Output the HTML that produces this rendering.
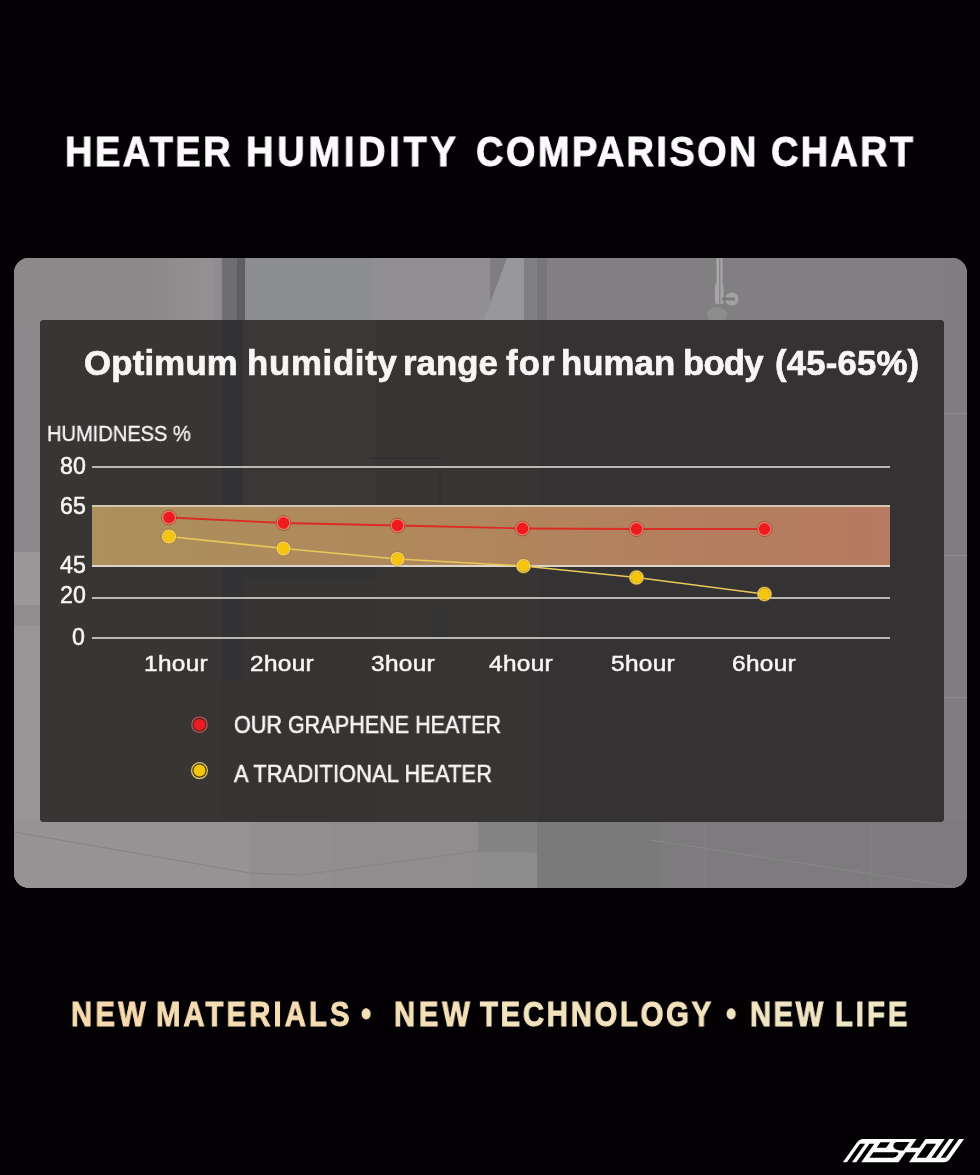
<!DOCTYPE html>
<html><head><meta charset="utf-8">
<style>
html,body{margin:0;padding:0;}
body{width:980px;height:1175px;background:#030103;position:relative;overflow:hidden;font-family:"Liberation Sans",sans-serif;}
.abs{position:absolute;}
.t{position:absolute;white-space:nowrap;line-height:1;transform-origin:0 0;will-change:transform;}
#inner{left:40px;top:320px;width:904px;height:502px;border-radius:4px;overflow:hidden;background:#363433;}
#inner div{position:absolute;}
.w{color:#f8f6f5;}
.grid{position:absolute;left:92px;width:798px;height:2px;background:#bab7b5;}
#band{left:92px;top:505px;width:798px;height:62px;box-sizing:border-box;background:linear-gradient(90deg,#ad905b 0%,#ae8b5c 22%,#b0875c 46%,#b47f5e 74%,#b57a60 100%);border-top:2px solid #d4c6b0;border-bottom:2px solid #dcd3ca;}
.dig{font-size:23.2px;-webkit-text-stroke:0.5px #f8f6f5;}
.hr{font-size:22.6px;letter-spacing:0.3px;transform:scaleX(1.08);top:652.6px;-webkit-text-stroke:0.5px #f8f6f5;}
</style></head>
<body>
<div class="t" style="left:65.2px;top:129.9px;font-size:43.2px;font-weight:bold;letter-spacing:2.75px;transform:scaleX(0.88);-webkit-text-stroke:0.9px #fcfafc;color:#fcfafc;">HEATER</div>
<div class="t" style="left:245.8px;top:129.9px;font-size:43.2px;font-weight:bold;letter-spacing:4.26px;transform:scaleX(0.88);-webkit-text-stroke:0.9px #fcfafc;color:#fcfafc;">HUMIDITY</div>
<div class="t" style="left:475.7px;top:129.9px;font-size:43.2px;font-weight:bold;letter-spacing:2.71px;transform:scaleX(0.88);-webkit-text-stroke:0.9px #fcfafc;color:#fcfafc;">COMPARISON</div>
<div class="t" style="left:770.7px;top:129.9px;font-size:43.2px;font-weight:bold;letter-spacing:2.58px;transform:scaleX(0.88);-webkit-text-stroke:0.9px #fcfafc;color:#fcfafc;">CHART</div>
<svg class="abs" style="left:0;top:0" width="980" height="1175" viewBox="0 0 980 1175">
  <defs>
    <clipPath id="oc"><rect x="14" y="258" width="953" height="630" rx="15" ry="15"/></clipPath>
    <linearGradient id="lstrip" x1="0" y1="0" x2="0" y2="1">
      <stop offset="0" stop-color="#8b898a"/><stop offset="0.47" stop-color="#8a8889"/>
      <stop offset="0.5" stop-color="#7e7c7d"/><stop offset="0.56" stop-color="#8e8c8d"/>
      <stop offset="0.6" stop-color="#979596"/><stop offset="1" stop-color="#9c9a9b"/>
    </linearGradient>
  <linearGradient id="tg1" x1="0" y1="0" x2="1" y2="0"><stop offset="0" stop-color="#8b898a"/><stop offset="0.85" stop-color="#939193"/><stop offset="1" stop-color="#8a888a"/></linearGradient>
  </defs>
  <g clip-path="url(#oc)">
    <rect x="14" y="258" width="953" height="630" fill="#7f7d7f"/>
    <!-- left strip -->
    <rect x="14" y="258" width="30" height="294" fill="#8a888a"/><rect x="14" y="552" width="30" height="53" fill="#9a9899"/><rect x="14" y="605" width="30" height="21" fill="#8f8d8e"/><rect x="14" y="626" width="30" height="262" fill="#979596"/>
    <!-- top strip blocks -->
    <rect x="14" y="258" width="208" height="64" fill="#8b898a"/>
    <rect x="150" y="258" width="72" height="64" fill="url(#tg1)"/>
    <rect x="222" y="258" width="15" height="64" fill="#6f6d70"/>
    <rect x="237" y="258" width="8" height="64" fill="#5f5e63"/>
    <rect x="245" y="258" width="127" height="64" fill="#8c8d91"/>
    <rect x="372" y="258" width="118" height="64" fill="#918f92"/>
    <polygon points="483,322 507,258 524,258 524,322" fill="#989799"/>
    <rect x="524" y="258" width="13" height="64" fill="#807f81"/><rect x="537" y="258" width="10" height="64" fill="#767577"/>
    <rect x="547" y="258" width="420" height="64" fill="#817f82"/>
    <!-- shower -->
    <rect x="716.5" y="258" width="6" height="32" fill="#a9a8a9"/>
    <rect x="719.2" y="258" width="1.2" height="46" fill="#7e7d7e"/>
    <rect x="715" y="284" width="8.5" height="20" rx="2" fill="#a6a5a6"/>
    <rect x="719.2" y="284" width="1.2" height="20" fill="#828182"/>
    <circle cx="731.8" cy="299" r="6.6" fill="#a4a3a4"/>
    <rect x="722" y="297.5" width="13" height="3" fill="#7c7b7c"/>
    <ellipse cx="717" cy="315" rx="10" ry="8" fill="#8e8d8e"/>
    <!-- right strip -->
    <rect x="944" y="258" width="23" height="630" fill="#7f7d7f"/><rect x="944" y="413" width="23" height="1" fill="#8e8c8e"/><rect x="944" y="555" width="23" height="1" fill="#8e8c8e"/><rect x="944" y="697" width="23" height="1" fill="#8e8c8e"/>
    <!-- bottom strip -->
    <rect x="14" y="820" width="236" height="68" fill="#959394"/>
    <rect x="250" y="820" width="228" height="68" fill="#8f8d8e"/>
    <rect x="250" y="820" width="80" height="68" fill="#918f90"/>
    <rect x="478" y="820" width="59" height="32" fill="#858485"/>
    <rect x="478" y="852" width="59" height="36" fill="#8e8d8e"/>
    <rect x="537" y="820" width="123" height="68" fill="#7b7a7b"/>
    <rect x="660" y="820" width="307" height="68" fill="#7d7b7d"/>
    <polyline points="14,832 250,873 300,875 478,851 537,852" fill="none" stroke="#858384" stroke-width="1.2"/>
    <polyline points="650,840 950,886" fill="none" stroke="#8a898a" stroke-width="1"/>
    <rect x="705" y="822" width="1" height="66" fill="#858385"/>
    <rect x="870" y="822" width="1" height="66" fill="#858385"/>
  </g>
</svg>
<div id="inner" class="abs">
  <div style="left:0;top:0;width:182px;height:502px;background:#383635;"></div>
  <div style="left:182px;top:0;width:21px;height:360px;background:#323133;"></div>
  <div style="left:203px;top:0;width:133px;height:257px;background:#3a3837;"></div>
  <div style="left:203px;top:246px;width:133px;height:12px;background:#333232;"></div>
  <div style="left:203px;top:258px;width:133px;height:244px;background:#363433;"></div>
  <div style="left:336px;top:0;width:163px;height:502px;background:#373534;"></div>
  <div style="left:399px;top:140px;width:1.5px;height:105px;background:#323131;"></div>
  <div style="left:330px;top:137px;width:70px;height:2px;background:#323030;"></div>
  <div style="left:391px;top:287px;width:18px;height:30px;border-radius:6px;background:#343333;"></div>
  <div style="left:499px;top:0;width:405px;height:502px;background:#343233;"></div>
</div>
<div class="t" style="left:83.7px;top:346.3px;font-size:34.74px;font-weight:bold;letter-spacing:0.22px;transform:scaleX(1.0);-webkit-text-stroke:0.7px #f8f6f5;color:#f8f6f5;">Optimum</div>
<div class="t" style="left:246.5px;top:346.3px;font-size:34.74px;font-weight:bold;letter-spacing:0.73px;transform:scaleX(1.0);-webkit-text-stroke:0.7px #f8f6f5;color:#f8f6f5;">humidity</div>
<div class="t" style="left:402.9px;top:346.3px;font-size:34.74px;font-weight:bold;letter-spacing:0.04px;transform:scaleX(1.0);-webkit-text-stroke:0.7px #f8f6f5;color:#f8f6f5;">range</div>
<div class="t" style="left:506.1px;top:346.3px;font-size:34.74px;font-weight:bold;letter-spacing:1.07px;transform:scaleX(1.0);-webkit-text-stroke:0.7px #f8f6f5;color:#f8f6f5;">for</div>
<div class="t" style="left:560.7px;top:346.3px;font-size:34.74px;font-weight:bold;letter-spacing:0.09px;transform:scaleX(1.0);-webkit-text-stroke:0.7px #f8f6f5;color:#f8f6f5;">human</div>
<div class="t" style="left:683.2px;top:346.3px;font-size:34.74px;font-weight:bold;letter-spacing:-0.83px;transform:scaleX(1.0);-webkit-text-stroke:0.7px #f8f6f5;color:#f8f6f5;">body</div>
<div class="t" style="left:775.3px;top:346.3px;font-size:34.74px;font-weight:bold;letter-spacing:0.19px;transform:scaleX(1.0);-webkit-text-stroke:0.7px #f8f6f5;color:#f8f6f5;">(45-65%)</div>
<div class="t w" style="left:47.3px;top:423.0px;font-size:21.22px;letter-spacing:-0.08px;transform:scaleX(0.95);-webkit-text-stroke:0.3px #f8f6f5;">HUMIDNESS %</div>
<div class="t w dig" style="left:60.1px;top:454.9px;">80</div>
<div class="t w dig" style="left:60.1px;top:494.7px;">65</div>
<div class="t w dig" style="left:60.1px;top:553.8px;">45</div>
<div class="t w dig" style="left:60.1px;top:584.1px;">20</div>
<div class="t w dig" style="left:71.6px;top:626.1px;">0</div>
<div class="grid" style="top:465.5px;"></div>
<div id="band" class="abs"></div>
<div class="grid" style="top:596.5px;"></div>
<div class="grid" style="top:637.3px;"></div>
<svg class="abs" style="left:0;top:0" width="980" height="1175" viewBox="0 0 980 1175">
<polyline points="169,517.5 283.5,523 397.5,525.5 522.5,528.5 636.5,529 764.5,529" fill="none" stroke="#dc2b24" stroke-width="1.8"/>
<polyline points="169,536.5 283.5,548.5 397.5,559 523.5,566 636.5,577.5 764.5,594" fill="none" stroke="#e9c95a" stroke-width="1.6"/>
<circle cx="169" cy="517.5" r="7.35" fill="none" stroke="rgba(140,50,35,0.75)" stroke-width="0.9"/><circle cx="169" cy="517.5" r="6.4" fill="none" stroke="#f07866" stroke-width="1.4"/><circle cx="169" cy="517.5" r="5.7" fill="#ee1a1f"/>
<circle cx="283.5" cy="523" r="7.35" fill="none" stroke="rgba(140,50,35,0.75)" stroke-width="0.9"/><circle cx="283.5" cy="523" r="6.4" fill="none" stroke="#f07866" stroke-width="1.4"/><circle cx="283.5" cy="523" r="5.7" fill="#ee1a1f"/>
<circle cx="397.5" cy="525.5" r="7.35" fill="none" stroke="rgba(140,50,35,0.75)" stroke-width="0.9"/><circle cx="397.5" cy="525.5" r="6.4" fill="none" stroke="#f07866" stroke-width="1.4"/><circle cx="397.5" cy="525.5" r="5.7" fill="#ee1a1f"/>
<circle cx="522.5" cy="528.5" r="7.35" fill="none" stroke="rgba(140,50,35,0.75)" stroke-width="0.9"/><circle cx="522.5" cy="528.5" r="6.4" fill="none" stroke="#f07866" stroke-width="1.4"/><circle cx="522.5" cy="528.5" r="5.7" fill="#ee1a1f"/>
<circle cx="636.5" cy="529" r="7.35" fill="none" stroke="rgba(140,50,35,0.75)" stroke-width="0.9"/><circle cx="636.5" cy="529" r="6.4" fill="none" stroke="#f07866" stroke-width="1.4"/><circle cx="636.5" cy="529" r="5.7" fill="#ee1a1f"/>
<circle cx="764.5" cy="529" r="7.35" fill="none" stroke="rgba(140,50,35,0.75)" stroke-width="0.9"/><circle cx="764.5" cy="529" r="6.4" fill="none" stroke="#f07866" stroke-width="1.4"/><circle cx="764.5" cy="529" r="5.7" fill="#ee1a1f"/>
<circle cx="169" cy="536.5" r="7.35" fill="none" stroke="rgba(160,120,30,0.75)" stroke-width="0.9"/><circle cx="169" cy="536.5" r="6.4" fill="none" stroke="#f2d468" stroke-width="1.4"/><circle cx="169" cy="536.5" r="5.7" fill="#f6c60e"/>
<circle cx="283.5" cy="548.5" r="7.35" fill="none" stroke="rgba(160,120,30,0.75)" stroke-width="0.9"/><circle cx="283.5" cy="548.5" r="6.4" fill="none" stroke="#f2d468" stroke-width="1.4"/><circle cx="283.5" cy="548.5" r="5.7" fill="#f6c60e"/>
<circle cx="397.5" cy="559" r="7.35" fill="none" stroke="rgba(160,120,30,0.75)" stroke-width="0.9"/><circle cx="397.5" cy="559" r="6.4" fill="none" stroke="#f2d468" stroke-width="1.4"/><circle cx="397.5" cy="559" r="5.7" fill="#f6c60e"/>
<circle cx="523.5" cy="566" r="7.35" fill="none" stroke="rgba(160,120,30,0.75)" stroke-width="0.9"/><circle cx="523.5" cy="566" r="6.4" fill="none" stroke="#f2d468" stroke-width="1.4"/><circle cx="523.5" cy="566" r="5.7" fill="#f6c60e"/>
<circle cx="636.5" cy="577.5" r="7.35" fill="none" stroke="rgba(160,120,30,0.75)" stroke-width="0.9"/><circle cx="636.5" cy="577.5" r="6.4" fill="none" stroke="#f2d468" stroke-width="1.4"/><circle cx="636.5" cy="577.5" r="5.7" fill="#f6c60e"/>
<circle cx="764.5" cy="594" r="7.35" fill="none" stroke="rgba(160,120,30,0.75)" stroke-width="0.9"/><circle cx="764.5" cy="594" r="6.4" fill="none" stroke="#f2d468" stroke-width="1.4"/><circle cx="764.5" cy="594" r="5.7" fill="#f6c60e"/>
<circle cx="199.5" cy="724.7" r="7.7" fill="none" stroke="#d4504a" stroke-width="1.2"/><circle cx="199.5" cy="724.7" r="6.4" fill="#5a2a28"/><circle cx="199.5" cy="724.7" r="5.8" fill="#ec1c22"/>
<circle cx="199.5" cy="770.6" r="7.9" fill="none" stroke="#e0c462" stroke-width="1.3"/><circle cx="199.5" cy="770.6" r="6.6" fill="#4a3e22"/><circle cx="199.5" cy="770.6" r="6.0" fill="#f6c40a"/>
</svg>
<div class="t w hr" style="left:143.5px;">1hour</div>
<div class="t w hr" style="left:250.0px;">2hour</div>
<div class="t w hr" style="left:371.1px;">3hour</div>
<div class="t w hr" style="left:489.0px;">4hour</div>
<div class="t w hr" style="left:610.9px;">5hour</div>
<div class="t w hr" style="left:731.9px;">6hour</div>
<div class="t w" style="left:234.2px;top:713.3px;font-size:23.84px;letter-spacing:0.10px;transform:scaleX(0.9);-webkit-text-stroke:0.6px #f8f6f5;">OUR GRAPHENE HEATER</div>
<div class="t w" style="left:234.0px;top:762.0px;font-size:24.13px;letter-spacing:0.22px;transform:scaleX(0.9);-webkit-text-stroke:0.6px #f8f6f5;">A TRADITIONAL HEATER</div>
<div class="t" style="left:70.7px;top:997.0px;font-size:34.4px;font-weight:bold;letter-spacing:3.91px;transform:scaleX(0.85);-webkit-text-stroke:1.0px #f7dbaf;color:#f7dbaf;">NEW</div>
<div class="t" style="left:156.3px;top:997.0px;font-size:34.4px;font-weight:bold;letter-spacing:3.71px;transform:scaleX(0.85);-webkit-text-stroke:1.0px #f5ddb3;color:#f5ddb3;">MATERIALS</div>
<div class="t" style="left:361.2px;top:997.0px;font-size:34.4px;font-weight:bold;letter-spacing:0.21px;transform:scaleX(0.85);-webkit-text-stroke:1.0px #f4dfb6;color:#f4dfb6;">&#8226;</div>
<div class="t" style="left:394.0px;top:997.0px;font-size:34.4px;font-weight:bold;letter-spacing:4.44px;transform:scaleX(0.85);-webkit-text-stroke:1.0px #f4e0b8;color:#f4e0b8;">NEW</div>
<div class="t" style="left:479.6px;top:997.0px;font-size:34.4px;font-weight:bold;letter-spacing:3.26px;transform:scaleX(0.85);-webkit-text-stroke:1.0px #f2e2bd;color:#f2e2bd;">TECHNOLOGY</div>
<div class="t" style="left:725.5px;top:997.0px;font-size:34.4px;font-weight:bold;letter-spacing:0.37px;transform:scaleX(0.85);-webkit-text-stroke:1.0px #f1e4c1;color:#f1e4c1;">&#8226;</div>
<div class="t" style="left:749.8px;top:997.0px;font-size:34.4px;font-weight:bold;letter-spacing:2.97px;transform:scaleX(0.85);-webkit-text-stroke:1.0px #f0e4c3;color:#f0e4c3;">NEW</div>
<div class="t" style="left:834.7px;top:997.0px;font-size:34.4px;font-weight:bold;letter-spacing:3.60px;transform:scaleX(0.85);-webkit-text-stroke:1.0px #efe6c5;color:#efe6c5;">LIFE</div>
<!--logo--><svg class="abs" style="left:0;top:0" width="980" height="1175" viewBox="0 0 980 1175"><g transform="matrix(1,0,-0.71,1,825.16,0)"><path d="M842.9,1162.2 L842.9,1142.4 Q842.9,1138.9 846.4,1138.9 L947.5,1138.9 L947.5,1158.7 Q947.5,1162.2 944.0,1162.2 Z" fill="#fdfcfd"/><rect x="846.9" y="1143.7" width="5.10" height="19.50" rx="0" fill="#030103"/><rect x="856.3" y="1143.7" width="4.90" height="19.50" rx="0" fill="#030103"/><rect x="866.3" y="1142.2" width="9.50" height="5.50" rx="0" fill="#030103"/><path d="M866.2,1152.2 L889.7,1152.2 A2.75,2.75 0 0 1 889.7,1157.7 L866.2,1157.7 Z" fill="#030103"/><path d="M895.2,1141.9 L882.5,1141.9 Q880.6,1141.9 880.8,1143.6 Q882.5,1150.6 895.2,1150.6 Z" fill="#030103"/><rect x="900.0" y="1137.9" width="9.00" height="9.80" rx="0" fill="#030103"/><rect x="898.5" y="1152.2" width="10.50" height="11.00" rx="0" fill="#030103"/><rect x="913.5" y="1143.7" width="9.50" height="14.00" rx="0" fill="#030103"/><rect x="928.2" y="1137.9" width="4.50" height="19.80" rx="0" fill="#030103"/><rect x="937.6" y="1137.9" width="4.90" height="19.80" rx="0" fill="#030103"/></g></svg><!--/logo-->
</body></html>
